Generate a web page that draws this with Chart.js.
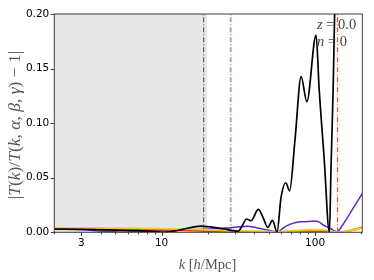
<!DOCTYPE html>
<html>
<head>
<meta charset="utf-8">
<script src="https://cdn.jsdelivr.net/npm/chart.js@4.4.0/dist/chart.umd.min.js"></script>
<style>
  html, body { margin: 0; padding: 0; background: #fff; }
</style>
</head>
<body>
<canvas id="chart" width="374" height="280"></canvas>
<script>
// wavenumbers k [h/Mpc] and residuals for each curve
const kBlack = [2, 3, 5, 7, 9, 10.5, 12, 14, 16, 18, 20, 23, 26, 29, 31.6, 33.5, 35.8, 38.2, 42.7, 46, 49.1, 52.8, 56.5, 60, 64.4, 68.2, 74, 81.1, 88.3, 101.5, 106.3, 114.4, 124, 127, 131, 134, 136];
const vBlack = [0.003, 0.0027, 0.002, 0.0015, 0.0006, 0.0002, 0.001, 0.003, 0.0048, 0.0057, 0.0052, 0.004, 0.003, 0.0015, 0.001, 0.006, 0.0122, 0.0106, 0.021, 0.013, 0.0046, 0.011, 0.0, 0.032, 0.0454, 0.038, 0.085, 0.1426, 0.1197, 0.1807, 0.131, 0.069, 0.0, 0.06, 0.13, 0.2, 0.28];

const kPurple = [2, 3, 4, 5.5, 7, 9, 12, 16, 20, 25, 28, 32, 36, 42, 50, 57, 62, 69, 80, 90, 97.5, 106, 113, 125, 138.6, 150, 160, 175, 190, 203];
const vPurple = [0.0037, 0.0025, 0.0012, 0.0002, 0.0008, 0.0018, 0.0022, 0.0024, 0.003, 0.0038, 0.0042, 0.005, 0.0055, 0.004, 0.0018, 0.0002, 0.004, 0.0075, 0.0097, 0.0098, 0.0103, 0.0095, 0.0067, 0.0037, 0.0005, 0.006, 0.012, 0.021, 0.029, 0.0357];

const kLow = [2, 4, 8, 15, 20, 30, 40, 55, 70, 90, 110, 125, 138, 160, 180, 203];
const vYellow = [0.0043, 0.004, 0.0036, 0.003, 0.0026, 0.0018, 0.0012, 0.0008, 0.0016, 0.0025, 0.0026, 0.0015, 0.0002, 0.0008, 0.0022, 0.0038];
const vOrange = [0.0038, 0.0036, 0.0033, 0.0027, 0.0022, 0.0012, 0.0007, 0.0004, 0.0009, 0.0016, 0.0018, 0.001, 0.0001, 0.0012, 0.003, 0.0048];

const kRed = [2, 4, 8, 12, 16, 20, 25, 30, 40, 55, 70, 90, 110, 125, 138, 160, 180, 203];
const vRed = [0.003, 0.0028, 0.0024, 0.002, 0.0014, 0.0008, 0.0003, 0.0001, 0.0002, 0.0001, 0.0004, 0.0008, 0.0009, 0.0005, 0.0, 0.0008, 0.002, 0.0042];

// shaded range and vertical markers
const shadeRange = [2, 19.8];
const kMarkBlack = 18.8;
const kMarkPurple = 28.2;
const kMarkRed = 140;

const xTicks = [2, 3, 4, 5, 6, 7, 8, 9, 10, 20, 30, 40, 50, 60, 70, 80, 90, 100, 200];
const xLabels = [3, 10, 100];

function pts(ks, vs) {
    return ks.map((k, i) => ({ x: k, y: vs[i] }));
}
function vline(k) {
    return [{ x: k, y: 0 }, { x: k, y: 0.2 }];
}

const curve = (data, color, width) => ({
    data: data,
    borderColor: color,
    borderWidth: width,
    pointRadius: 0,
    cubicInterpolationMode: 'monotone',
    fill: false,
    order: 0
});
const marker = (k, color, width) => ({
    data: vline(k),
    borderColor: color,
    borderWidth: width,
    borderDash: [5, 2, 1, 2],
    pointRadius: 0,
    fill: false,
    order: 5
});

function drawRuns(ctx, runs, size, x, y, align) {
    const fontOf = r => (r[1] ? 'italic ' : '') + size + 'px "Liberation Serif"';
    let total = 0;
    runs.forEach(r => { ctx.font = fontOf(r); total += ctx.measureText(r[0]).width; });
    let cx = align === 'center' ? x - total / 2 : (align === 'right' ? x - total : x);
    ctx.textAlign = 'left';
    ctx.textBaseline = 'middle';
    runs.forEach(r => {
        ctx.font = fontOf(r);
        ctx.fillText(r[0], cx, y);
        cx += ctx.measureText(r[0]).width;
    });
}

const decor = {
    id: 'decor',
    afterDraw(chart) {
        const ctx = chart.ctx;
        const a = chart.chartArea;
        const xs = chart.scales.x, ys = chart.scales.y;
        ctx.save();
        // frame
        ctx.strokeStyle = '#3c3c3c';
        ctx.lineWidth = 1;
        ctx.strokeRect(a.left, a.top, a.right - a.left, a.bottom - a.top);
        // ticks
        ctx.beginPath();
        xTicks.forEach(v => {
            const px = Math.round(xs.getPixelForValue(v)) + 0.5;
            const len = (v === 10 || v === 100 || xLabels.includes(v)) ? 3.5 : 2;
            ctx.moveTo(px, a.bottom);
            ctx.lineTo(px, a.bottom + len);
        });
        ys.ticks.forEach(t => {
            const py = Math.round(ys.getPixelForValue(t.value)) + 0.5;
            ctx.moveTo(a.left, py);
            ctx.lineTo(a.left - 3.5, py);
        });
        ctx.stroke();
        // labels
        ctx.fillStyle = '#555';
        drawRuns(ctx, [['k', 1], [' [', 0], ['h', 1], ['/Mpc]', 0]], 14.5, 207.5, 265, 'center');
        ctx.save();
        ctx.translate(15, 125);
        ctx.rotate(-Math.PI / 2);
        drawRuns(ctx, [['|', 0], ['T', 1], ['(', 0], ['k', 1], [')/', 0], ['T', 1], ['(', 0], ['k', 1], [', ', 0], ['α', 1], [', ', 0], ['β', 1], [', ', 0], ['γ', 1], [') − 1|', 0]], 17.5, 0, 0, 'center');
        ctx.restore();
        ctx.fillStyle = '#444';
        drawRuns(ctx, [['z', 1], [' = 0.0', 0]], 14.5, 317, 25, 'left');
        drawRuns(ctx, [['n', 1], [' = 0', 0]], 14.5, 317, 41.7, 'left');
        ctx.restore();
    }
};

new Chart(document.getElementById('chart'), {
    type: 'line',
    data: {
        datasets: [
            curve(pts(kBlack, vBlack), '#000000', 1.7),
            curve(pts(kLow, vYellow), '#f2d22e', 1.5),
            curve(pts(kLow, vOrange), '#f59e1c', 1.5),
            curve(pts(kRed, vRed), '#e4361e', 1.5),
            curve(pts(kPurple, vPurple), '#5a2ad0', 1.5),
            marker(kMarkBlack, '#444444', 1),
            marker(kMarkPurple, '#a894e2', 1.8),
            marker(kMarkRed, '#f04a28', 1.2),
            {
                data: shadeRange.map(k => ({ x: k, y: 0.2 })),
                borderWidth: 0,
                borderColor: 'rgba(0,0,0,0)',
                backgroundColor: '#e7e7e7',
                pointRadius: 0,
                fill: 'origin',
                order: 10
            }
        ]
    },
    options: {
        responsive: false,
        animation: false,
        layout: { padding: { top: 14, right: 11.7, left: 0, bottom: 0 } },
        plugins: { legend: { display: false }, tooltip: { enabled: false } },
        scales: {
            x: {
                type: 'logarithmic',
                min: 2,
                max: 203,
                afterBuildTicks: s => { s.ticks = xTicks.map(v => ({ value: v })); },
                afterFit: s => { s.height = 47.7; },
                ticks: {
                    autoSkip: false,
                    maxRotation: 0,
                    padding: 1,
                    color: '#000',
                    font: { family: 'DejaVu Sans', size: 10.5 },
                    callback: v => xLabels.includes(v) ? String(v) : ''
                },
                grid: { drawOnChartArea: false, tickLength: 4, tickColor: 'rgba(0,0,0,0)' },
                border: { display: false }
            },
            y: {
                min: 0,
                max: 0.2,
                afterFit: s => { s.width = 54.3; },
                ticks: {
                    stepSize: 0.05,
                    padding: 1,
                    color: '#000',
                    font: { family: 'DejaVu Sans', size: 10.5 },
                    callback: v => v.toFixed(2)
                },
                grid: { drawOnChartArea: false, tickLength: 4, tickColor: 'rgba(0,0,0,0)' },
                border: { display: false }
            }
        }
    },
    plugins: [decor]
});
</script>
</body>
</html>
